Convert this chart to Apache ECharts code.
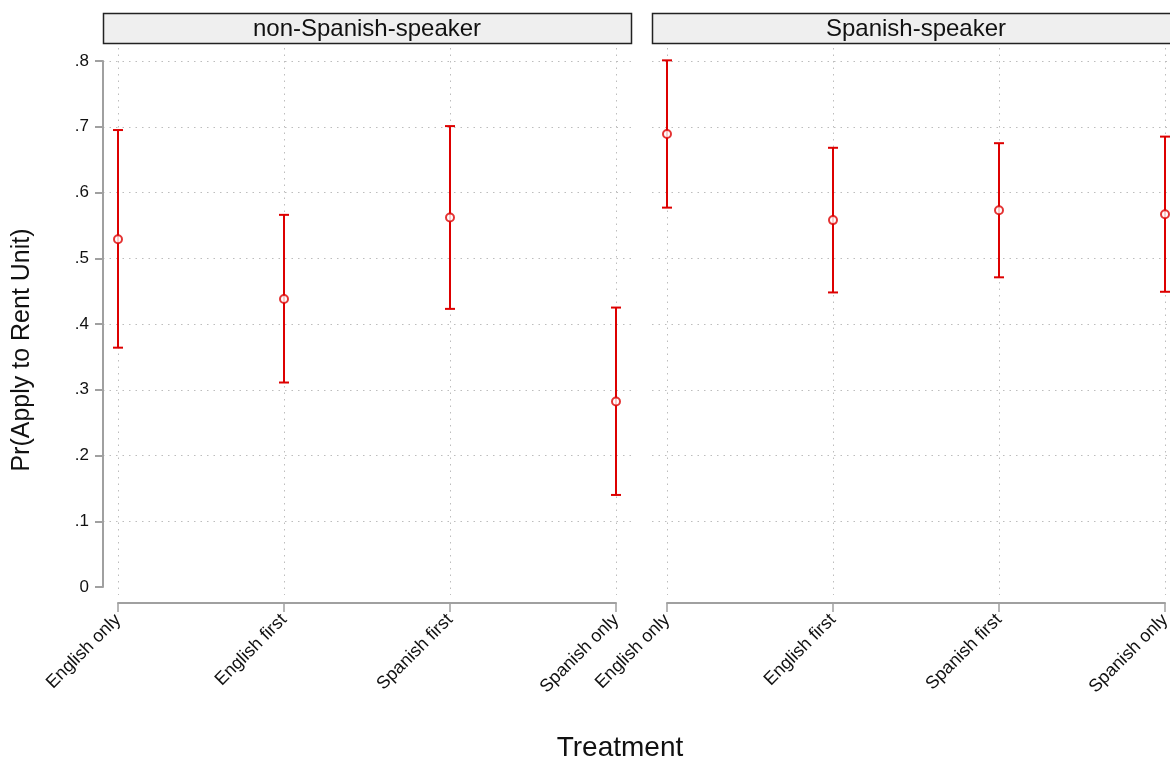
<!DOCTYPE html>
<html>
<head>
<meta charset="utf-8">
<title>Pr(Apply to Rent Unit) by treatment</title>
<script src="https://cdn.jsdelivr.net/npm/echarts@6/dist/echarts.min.js"></script>
<style>
  html, body { margin: 0; padding: 0; background: #fff; }
  #chart { width: 1170px; height: 763px; }
</style>
</head>
<body>
<div id="chart"></div>
<script>
var categories = ['English only', 'English first', 'Spanish first', 'Spanish only'];
var panelTitles = ['non-Spanish-speaker', 'Spanish-speaker'];

// point estimates and 95% CI
var nonSpanishEst = [0.529, 0.438, 0.562, 0.282];
var nonSpanishLo  = [0.364, 0.311, 0.423, 0.140];
var nonSpanishHi  = [0.695, 0.566, 0.701, 0.425];

var spanishEst = [0.689, 0.558, 0.573, 0.567];
var spanishLo  = [0.577, 0.448, 0.471, 0.449];
var spanishHi  = [0.801, 0.668, 0.675, 0.685];

var RED = '#dd0000';
var FONT = 'Liberation Sans, Arial, Helvetica, sans-serif';
var GRIDLINE = { color: '#bdbdbd', type: [1.5, 5], width: 1 };
var AXIS = '#a0a0a0';

var chart = echarts.init(document.getElementById('chart'));

// pixels per unit on y: .8 at 61, 0 at 587
var yTop = 61, yBot = 587;
var ppu = (yBot - yTop) / 0.8;
var innerMin = -(595 - yBot) / ppu;
var innerMax = 0.8 + (yTop - 48) / ppu;

function ciData(lo, hi){
    var out = [];
    for (var i = 0; i < categories.length; i++) {
        out.push([i, lo[i], hi[i]]);
    }
    return out;
}

function estData(est){
    var out = [];
    for (var i = 0; i < categories.length; i++) {
        out.push([i, est[i]]);
    }
    return out;
}

function renderBar(params, api){
    var top = api.coord([api.value(0), api.value(2)]);
    var bot = api.coord([api.value(0), api.value(1)]);
    var w = 5;
    var style = { stroke: RED, lineWidth: 2 };
    return {
        type: 'group',
        children: [
            { type: 'line', shape: { x1: top[0], y1: top[1], x2: bot[0], y2: bot[1] }, style: style },
            { type: 'line', shape: { x1: top[0] - w, y1: top[1], x2: top[0] + w, y2: top[1] }, style: style },
            { type: 'line', shape: { x1: bot[0] - w, y1: bot[1], x2: bot[0] + w, y2: bot[1] }, style: style }
        ]
    };
}

var panelLeft = [103, 652];
var panelWidth = 528;
var pad = 15;

var grids = [], xAxes = [], yAxes = [], series = [], graphics = [];

for (var p = 0; p < 2; p++) {
    // outer grid: horizontal grid lines and y axis
    grids.push({ left: panelLeft[p], top: yTop, width: panelWidth, height: yBot - yTop, outerBoundsMode: 'none' });
    xAxes.push({ gridIndex: 2 * p, type: 'value', show: false });
    yAxes.push({
        gridIndex: 2 * p,
        type: 'value',
        min: 0, max: 0.8, interval: 0.1,
        axisLine: { show: p === 0, lineStyle: { color: AXIS, width: 2 } },
        axisTick: { show: p === 0, length: 8, lineStyle: { color: AXIS, width: 2 } },
        axisLabel: {
            show: p === 0, margin: 14, fontSize: 17, color: '#111', fontFamily: FONT,
            formatter: function(v){ return v === 0 ? '0' : v.toFixed(1).replace(/^0/, ''); }
        },
        splitLine: { show: true, showMinLine: false, lineStyle: GRIDLINE }
    });

    // inner grid: categories, vertical grid lines, data
    grids.push({ left: panelLeft[p] + pad, top: 48, width: panelWidth - 2 * pad, height: 595 - 48, outerBoundsMode: 'none' });
    xAxes.push({
        gridIndex: 2 * p + 1,
        type: 'category',
        data: categories,
        boundaryGap: false,
        offset: 8,
        axisLine: { show: true, onZero: false, lineStyle: { color: AXIS, width: 2 } },
        axisTick: { show: true, inside: false, length: 9, interval: 0, lineStyle: { color: AXIS, width: 1.5 } },
        axisLabel: { rotate: 45, margin: 14, fontSize: 18, color: '#111', fontFamily: FONT, interval: 0 },
        splitLine: { show: true, lineStyle: GRIDLINE }
    });
    yAxes.push({ gridIndex: 2 * p + 1, type: 'value', min: innerMin, max: innerMax, show: false });

    var lo = p === 0 ? nonSpanishLo : spanishLo;
    var hi = p === 0 ? nonSpanishHi : spanishHi;
    var est = p === 0 ? nonSpanishEst : spanishEst;

    series.push({
        type: 'custom',
        xAxisIndex: 2 * p + 1, yAxisIndex: 2 * p + 1,
        renderItem: renderBar,
        data: ciData(lo, hi),
        z: 3
    });
    series.push({
        type: 'scatter',
        xAxisIndex: 2 * p + 1, yAxisIndex: 2 * p + 1,
        symbol: 'emptyCircle', symbolSize: 8,
        itemStyle: { color: RED, borderColor: RED, borderWidth: 2 },
        data: estData(est),
        z: 4
    });

    // panel header strip
    graphics.push({
        type: 'rect',
        shape: { x: panelLeft[p] + 0.5, y: 13.5, width: panelWidth, height: 30 },
        style: { fill: '#efefef', stroke: '#222', lineWidth: 1.5 }
    });
    graphics.push({
        type: 'text',
        x: panelLeft[p] + panelWidth / 2, y: 29,
        style: { text: panelTitles[p], fontSize: 24, fontFamily: FONT, fill: '#111', align: 'center', verticalAlign: 'middle' }
    });
}

// axis titles
graphics.push({
    type: 'text',
    x: 22, y: 350, rotation: Math.PI / 2,
    style: { text: 'Pr(Apply to Rent Unit)', fontSize: 25, fontFamily: FONT, fill: '#111', align: 'center', verticalAlign: 'middle' }
});
graphics.push({
    type: 'text',
    x: 620, y: 748,
    style: { text: 'Treatment', fontSize: 28, fontFamily: FONT, fill: '#111', align: 'center', verticalAlign: 'middle' }
});

var option = {
    backgroundColor: '#fff',
    animation: false,
    grid: grids,
    xAxis: xAxes,
    yAxis: yAxes,
    series: series,
    graphic: graphics
};

chart.setOption(option);
</script>
</body>
</html>
